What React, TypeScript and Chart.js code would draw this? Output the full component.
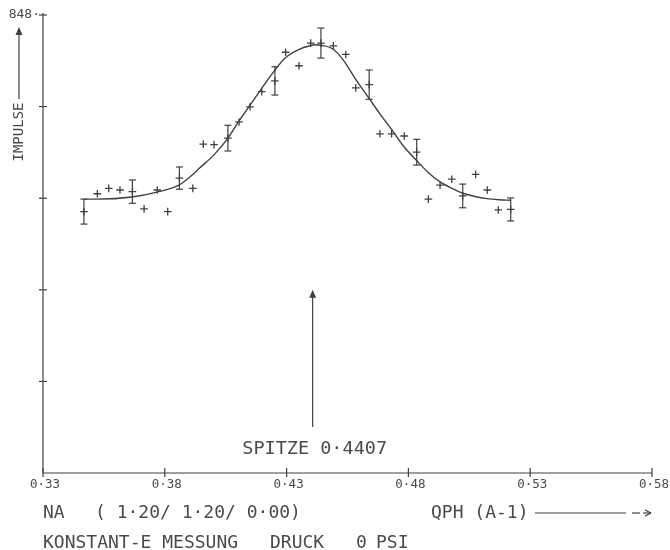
import React, { useEffect, useRef } from 'react';
import { Chart, registerables } from 'chart.js';

Chart.register(...registerables);

// ---- axis definitions ----
const X_MIN = 0.33;
const X_MAX = 0.58;
const Y_MIN = 0;
const Y_MAX = 848;
const X_TICKS = [0.33, 0.38, 0.43, 0.48, 0.53, 0.58];
const X_TICK_LABELS = ['0·33', '0·38', '0·43', '0·48', '0·53', '0·58'];
const Y_TICKS = [0, 169.6, 339.2, 508.8, 678.4, 848];
const Y_TICK_LABELS = ['', '', '', '', '', '848·'];

// ---- measured points (QPH, counts) ----
const DATA_X = [
  0.3468, 0.3523, 0.3570, 0.3616, 0.3667, 0.3715, 0.3769, 0.3812, 0.3860, 0.3915,
  0.3958, 0.4002, 0.4059, 0.4105, 0.4150, 0.4198, 0.4252, 0.4296, 0.4351, 0.4399,
  0.4441, 0.4492, 0.4543, 0.4584, 0.4639, 0.4683, 0.4731, 0.4783, 0.4834, 0.4882,
  0.4930, 0.4978, 0.5023, 0.5076, 0.5124, 0.5169, 0.5220,
];
const DATA_Y = [
  484, 517, 527, 524, 521, 489, 524, 484, 546, 527,
  609, 608, 620, 650, 678, 706, 726, 779, 754, 796,
  796, 791, 775, 713, 719, 628, 628, 624, 594, 507,
  533, 544, 513, 553, 524, 487, 488,
];
// statistical error (half length), only every 4th point carries a bar
const DATA_ERR: (number | null)[] = [
  23.1, null, null, null, 21.6, null, null, null, 20.6, null,
  null, null, 23.8, null, null, null, 26.2, null, null, null,
  27.8, null, null, null, 27.1, null, null, null, 23.8, null,
  null, null, 21.9, null, null, null, 21.3,
];

// ---- fitted curve ----
const FIT_X = [
  0.3468, 0.3522, 0.3665, 0.3768, 0.3858, 0.3903, 0.3944, 0.4002, 0.4059, 0.4105,
  0.4150, 0.4199, 0.4252, 0.4293, 0.4355, 0.4396, 0.4412, 0.4440, 0.4490, 0.4532,
  0.4585, 0.4638, 0.4683, 0.4733, 0.4782, 0.4835, 0.4880, 0.4930, 0.4979, 0.5024,
  0.5073, 0.5123, 0.5172, 0.5220,
];
const FIT_Y = [
  507, 507, 511, 520, 533, 548, 565, 589, 620, 652,
  681, 713, 746, 768, 785, 791, 793, 792, 785, 765,
  728, 694, 665, 635, 604, 578, 557, 539, 527, 518,
  512, 508, 506, 505,
];

// ---- annotation ----
const PEAK_X = 0.4407;
const PEAK_ARROW = [85, 339.2];
const PEAK_LABEL = 'SPITZE 0·4407';
const Y_TITLE = 'IMPULSE';
const X_TITLE = 'QPH (A-1)';
const INFO_LINE_1 = ['NA', '( 1·20/ 1·20/ 0·00)'];
const INFO_LINE_2 = ['KONSTANT-E MESSUNG', 'DRUCK', '0', 'PSI'];

const INK = '#404040';
const TEXT_INK = '#4a4a4a';
const MONO = "'DejaVu Sans Mono', 'Liberation Mono', monospace";

function seg(ctx: CanvasRenderingContext2D, x1: number, y1: number, x2: number, y2: number) {
  ctx.beginPath();
  ctx.moveTo(x1, y1);
  ctx.lineTo(x2, y2);
  ctx.stroke();
}

function arrowUp(ctx: CanvasRenderingContext2D, x: number, tipY: number) {
  ctx.beginPath();
  ctx.moveTo(x, tipY);
  ctx.lineTo(x - 3.5, tipY + 8);
  ctx.lineTo(x + 3.5, tipY + 8);
  ctx.closePath();
  ctx.fill();
}

const plotterPlugin = {
  id: 'plotter',
  afterDatasetsDraw(chart: any) {
    const ctx: CanvasRenderingContext2D = chart.ctx;
    const xs = chart.scales.x;
    const ys = chart.scales.y;
    ctx.save();
    ctx.strokeStyle = INK;
    ctx.fillStyle = INK;
    ctx.lineWidth = 1.2;
    ctx.lineCap = 'butt';

    // error bars
    DATA_ERR.forEach((e, i) => {
      if (e == null) return;
      const px = xs.getPixelForValue(DATA_X[i]);
      const yA = ys.getPixelForValue(DATA_Y[i] + e);
      const yB = ys.getPixelForValue(DATA_Y[i] - e);
      seg(ctx, px, yA, px, yB);
      seg(ctx, px - 3.5, yA, px + 3.5, yA);
      seg(ctx, px - 3.5, yB, px + 3.5, yB);
    });

    // axes
    const x0 = xs.getPixelForValue(X_MIN);
    const x1 = xs.getPixelForValue(X_MAX);
    const y0 = ys.getPixelForValue(Y_MIN);
    const yT = ys.getPixelForValue(Y_MAX);
    seg(ctx, x0, y0, x1, y0);
    seg(ctx, x0, y0, x0, yT - 2);
    X_TICKS.forEach((t) => {
      const px = xs.getPixelForValue(t);
      seg(ctx, px, y0 - 5, px, y0 + 4);
    });
    Y_TICKS.forEach((t) => {
      if (t === Y_MIN) return;
      const py = ys.getPixelForValue(t);
      seg(ctx, x0 - 4, py, x0 + 4, py);
    });

    // tick labels
    ctx.fillStyle = TEXT_INK;
    ctx.textBaseline = 'middle';
    ctx.textAlign = 'center';
    ctx.font = `12.5px ${MONO}`;
    X_TICKS.forEach((t, i) => {
      const px = xs.getPixelForValue(t);
      ctx.fillText(X_TICK_LABELS[i], px + 2, y0 + 12);
    });
    ctx.textAlign = 'right';
    ctx.font = `13px ${MONO}`;
    Y_TICKS.forEach((t, i) => {
      if (!Y_TICK_LABELS[i]) return;
      ctx.fillText(Y_TICK_LABELS[i], x0 - 3, ys.getPixelForValue(t));
    });

    // y title with arrow
    ctx.save();
    ctx.translate(19, 132);
    ctx.rotate(-Math.PI / 2);
    ctx.textAlign = 'center';
    ctx.font = `14px ${MONO}`;
    ctx.fillText(Y_TITLE, 0, 0);
    ctx.restore();
    ctx.fillStyle = INK;
    seg(ctx, 19, 99, 19, 32);
    arrowUp(ctx, 19, 27);

    // peak arrow and label
    const pkx = xs.getPixelForValue(PEAK_X);
    const pyB = ys.getPixelForValue(PEAK_ARROW[0]);
    const pyT = ys.getPixelForValue(PEAK_ARROW[1]);
    seg(ctx, pkx, pyB, pkx, pyT + 5);
    arrowUp(ctx, pkx, pyT);
    ctx.fillStyle = TEXT_INK;
    ctx.textAlign = 'center';
    ctx.font = `18.5px ${MONO}`;
    ctx.fillText(PEAK_LABEL, pkx + 2, y0 - 24);

    // info lines
    ctx.textAlign = 'left';
    ctx.font = `18px ${MONO}`;
    const r1 = y0 + 40;
    ctx.fillText(INFO_LINE_1[0], 43, r1);
    ctx.fillText(INFO_LINE_1[1], 95, r1);
    ctx.fillText(X_TITLE, 431, r1);
    ctx.strokeStyle = INK;
    seg(ctx, 535, r1, 626, r1);
    seg(ctx, 632, r1, 640, r1);
    seg(ctx, 643, r1, 651, r1);
    seg(ctx, 651, r1, 645, r1 - 3);
    seg(ctx, 651, r1, 645, r1 + 3);

    const r2 = y0 + 70;
    ctx.fillText(INFO_LINE_2[0], 43, r2);
    ctx.fillText(INFO_LINE_2[1], 270, r2);
    ctx.fillText(INFO_LINE_2[2], 356, r2);
    ctx.fillText(INFO_LINE_2[3], 376, r2);

    ctx.restore();
  },
};

export default function App() {
  const ref = useRef<HTMLCanvasElement | null>(null);

  useEffect(() => {
    document.body.style.margin = '0';
    document.body.style.background = '#ffffff';
    const canvas = ref.current;
    if (!canvas) return;
    const chart = new Chart(canvas, {
      type: 'scatter',
      data: {
        datasets: [
          {
            label: 'fit',
            data: FIT_X.map((x, i) => ({ x, y: FIT_Y[i] })),
            showLine: true,
            pointRadius: 0,
            borderColor: INK,
            borderWidth: 1.4,
            cubicInterpolationMode: 'monotone',
            fill: false,
          },
          {
            label: 'data',
            data: DATA_X.map((x, i) => ({ x, y: DATA_Y[i] })),
            showLine: false,
            pointStyle: 'cross',
            pointRadius: 3.8,
            pointBorderWidth: 1.3,
            borderColor: INK,
            backgroundColor: INK,
          },
        ],
      },
      options: {
        animation: false,
        responsive: true,
        maintainAspectRatio: false,
        layout: { padding: { left: 43, right: 18, top: 15, bottom: 77 } },
        plugins: {
          legend: { display: false },
          tooltip: { enabled: false },
        },
        scales: {
          x: { type: 'linear', min: X_MIN, max: X_MAX, display: false },
          y: { type: 'linear', min: Y_MIN, max: Y_MAX, display: false },
        },
      } as any,
      plugins: [plotterPlugin],
    });
    return () => chart.destroy();
  }, []);

  return (
    <div style={{ width: 670, height: 550, position: 'relative', background: '#fff' }}>
      <canvas ref={ref} />
    </div>
  );
}
